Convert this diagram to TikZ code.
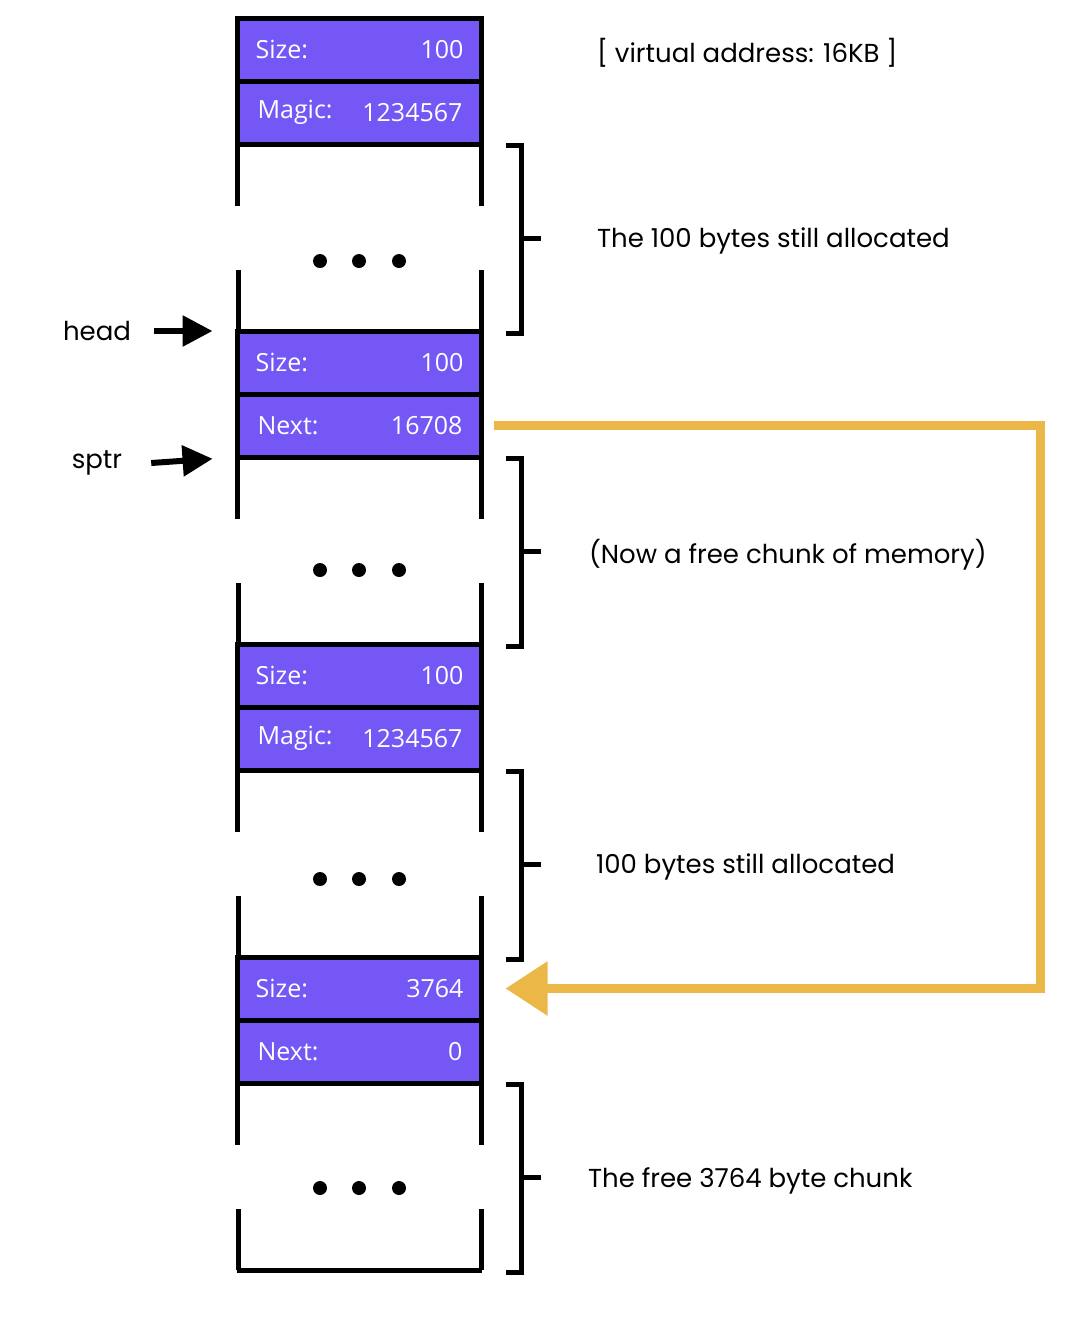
\documentclass[tikz,border=0pt]{standalone}
\usepackage{fontspec}
\setmainfont{Poppins}
\newfontfamily\boxfont{Open Sans}
\usetikzlibrary{positioning, calc, arrows.meta}
\definecolor{chunkpurple}{RGB}{116,87,245}
\definecolor{chalk}{RGB}{235,183,70}

\begin{document}
\begin{tikzpicture}[x=0.5pt, y=-0.5pt,
    field/.style={draw, line width=2.5pt, fill=chunkpurple, minimum width=122pt, minimum height=31.5pt, inner sep=0pt, outer sep=0pt},
    key/.style={anchor=west, text=white, font=\boxfont\fontsize{12.5}{15}\selectfont},
    val/.style={anchor=east, text=white, font=\boxfont\fontsize{12.5}{15}\selectfont},
    wall/.style={line width=2.5pt},
    note/.style={anchor=west, font=\fontsize{13}{15}\selectfont},
    ptr/.style={line width=3pt, -{Triangle[length=15pt,width=15pt]}}]
    \useasboundingbox (0,0) rectangle (1088,1330);

    % the four chunks, each: size header, second header, body
    \foreach \i/\top/\kname/\kval/\sval/\dy in {1/18/Magic:/1234567/100/117, 2/331/Next:/16708/100/113, 3/644/Magic:/1234567/100/109, 4/957/Next:/0/3764/105} {
        \node[field] (size\i) at (359.5,\top+31.5) {};
        \node[field, below=0pt of size\i] (hdr\i) {};
        \node[key] (sizekey\i) at ([xshift=5.5pt]size\i.west) {Size:};
        \node[val] (sizeval\i) at ([xshift=-5.5pt]size\i.east) {\sval};
        \node[key] (hdrkey\i) at ([xshift=6.5pt]hdr\i.west) {\kname};
        \node[val] (hdrval\i) at ([xshift=-6pt]hdr\i.east) {\kval};
        % body with broken sides
        \draw[wall] (hdr\i.south west) -- ++(0,62);
        \draw[wall] (hdr\i.south east) -- ++(0,62);
        \draw[wall] (238,\top+313) -- ++(0,-61);
        \draw[wall] (481,\top+313) -- ++(0,-61);
        \foreach \dx in {320,359,399}
            \fill (\dx,\top+126+\dy) circle (7);
        % bracket
        \draw[wall] (506,\top+127) -- (521,\top+127) -- (521,\top+315) -- (506,\top+315);
        \draw[wall] (521,\top+220) -- (541,\top+220);
    }
    \draw[wall] (236.75,1270) -- (482.25,1270);

    \node[note] (note0) at (590,53) {[ virtual address: 16KB ]};
    \node[note] (note1) at (590,241) {The 100 bytes still allocated};
    \node[note] (note2) at (582,555) {(Now a free chunk of memory)};
    \node[note] (note3) at (589,867) {100 bytes still allocated};
    \node[note] (note4) at (581,1181) {The free 3764 byte chunk};

    \node[font=\fontsize{13}{15}\selectfont] (head) at (97,331) {head};
    \node[font=\fontsize{13}{15}\selectfont] (sptr) at (97,463) {sptr};
    \draw[ptr, shorten >=12.5pt] ([xshift=8pt]head.east) -- (size2.north west);
    \draw[ptr, shorten >=12.5pt] ([xshift=11pt]sptr.east) -- (hdr2.south west);

    \coordinate (bend) at (1040,425);
    \draw[chalk, line width=4.5pt, shorten <=6pt, shorten >=12pt, -{Triangle[length=21pt,width=26pt]}]
        (hdr2.east) -- (hdr2.east -| bend) -- (size4.east -| bend) -- (size4.east);
\end{tikzpicture}
\end{document}
